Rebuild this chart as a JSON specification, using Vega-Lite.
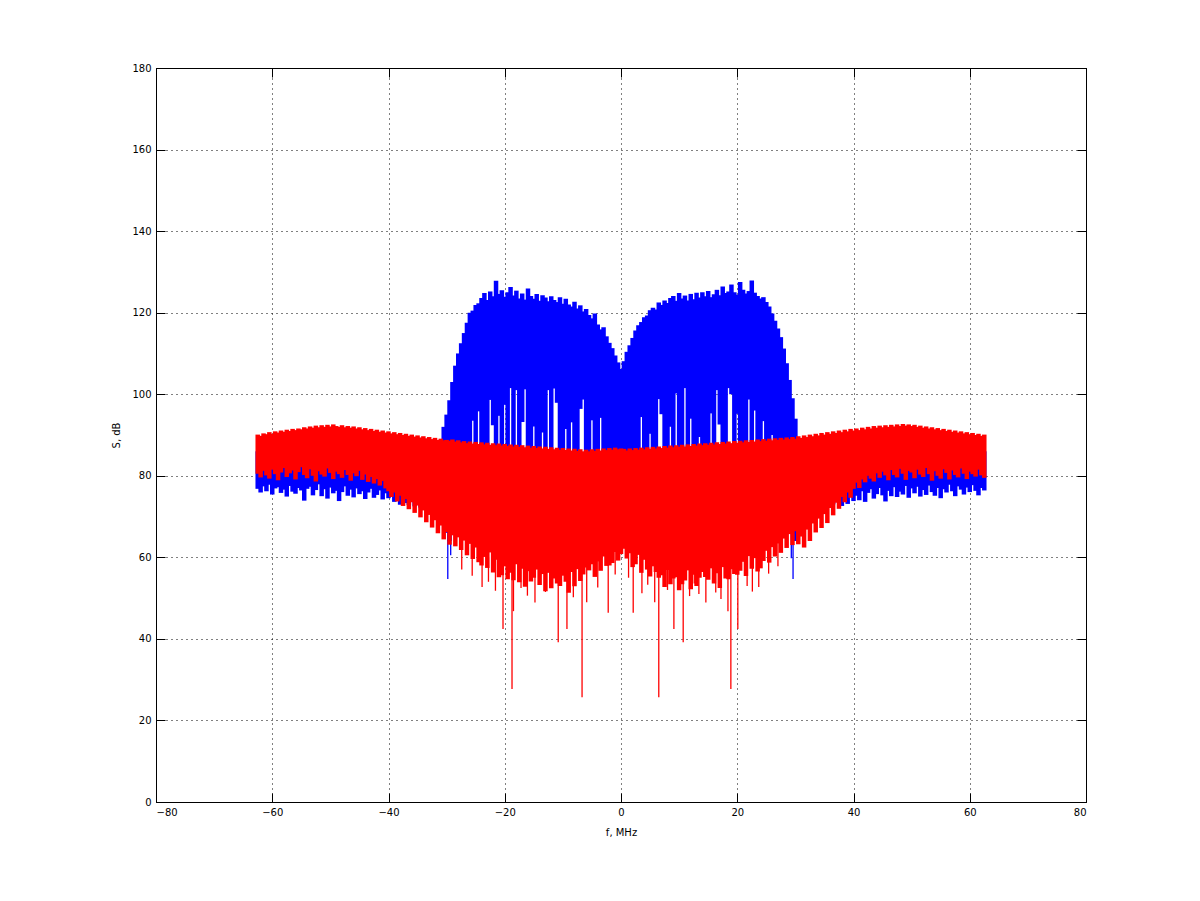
{
  "$schema": "https://vega.github.io/schema/vega-lite/v6.json",
  "width": 930,
  "height": 734,
  "autosize": "none",
  "padding": {"left": 156, "top": 68, "right": 114, "bottom": 99},
  "background": "white",
  "config": {
    "font": "DejaVu Sans",
    "view": {"stroke": "black", "strokeWidth": 1},
    "axis": {
      "labelFontSize": 10,
      "labelColor": "black",
      "titleFontSize": 10,
      "titleFontWeight": "normal",
      "titleColor": "black",
      "domainColor": "black",
      "tickColor": "black",
      "tickSize": -9,
      "gridColor": "black",
      "gridDash": [1, 4],
      "gridOpacity": 1
    }
  },
  "datasets": {
    "main": [
      {"f": -62.5, "r1": 90.1, "r0": 80.5, "b0": 76.8, "b1": 86},
      {"f": -62, "r1": 89.8, "r0": 79.6, "b0": 75.9, "b1": 86},
      {"f": -61.5, "r1": 90.4, "r0": 81.2, "b0": 77.4, "b1": 86},
      {"f": -61, "r1": 90.2, "r0": 80.1, "b0": 76.2, "b1": 86},
      {"f": -60.5, "r1": 90.7, "r0": 79.3, "b0": 77.8, "b1": 86},
      {"f": -60, "r1": 90.3, "r0": 81.5, "b0": 75.4, "b1": 86},
      {"f": -59.5, "r1": 90.9, "r0": 80.4, "b0": 76.9, "b1": 86},
      {"f": -59, "r1": 90.6, "r0": 78.9, "b0": 77.2, "b1": 86},
      {"f": -58.5, "r1": 91.1, "r0": 80.8, "b0": 75.8, "b1": 86},
      {"f": -58, "r1": 90.8, "r0": 81.9, "b0": 76.6, "b1": 86},
      {"f": -57.5, "r1": 91.3, "r0": 79.7, "b0": 74.9, "b1": 86},
      {"f": -57, "r1": 91.0, "r0": 80.6, "b0": 77.5, "b1": 86},
      {"f": -56.5, "r1": 91.5, "r0": 81.3, "b0": 76.1, "b1": 86},
      {"f": -56, "r1": 91.2, "r0": 79.1, "b0": 75.6, "b1": 86},
      {"f": -55.5, "r1": 91.6, "r0": 80.9, "b0": 77.0, "b1": 86},
      {"f": -55, "r1": 91.4, "r0": 82.1, "b0": 76.4, "b1": 86},
      {"f": -54.5, "r1": 91.9, "r0": 80.2, "b0": 73.9, "b1": 86},
      {"f": -54, "r1": 91.6, "r0": 79.4, "b0": 76.8, "b1": 86},
      {"f": -53.5, "r1": 92.1, "r0": 81.6, "b0": 77.3, "b1": 86},
      {"f": -53, "r1": 91.8, "r0": 80.0, "b0": 75.2, "b1": 86},
      {"f": -52.5, "r1": 92.3, "r0": 78.6, "b0": 76.5, "b1": 86},
      {"f": -52, "r1": 91.9, "r0": 81.1, "b0": 77.9, "b1": 86},
      {"f": -51.5, "r1": 92.4, "r0": 80.3, "b0": 75.0, "b1": 86},
      {"f": -51, "r1": 92.0, "r0": 79.8, "b0": 76.7, "b1": 86},
      {"f": -50.5, "r1": 92.5, "r0": 81.8, "b0": 74.4, "b1": 86},
      {"f": -50, "r1": 92.1, "r0": 80.7, "b0": 77.1, "b1": 86},
      {"f": -49.5, "r1": 92.6, "r0": 79.2, "b0": 75.7, "b1": 86},
      {"f": -49, "r1": 92.2, "r0": 81.0, "b0": 76.3, "b1": 86},
      {"f": -48.5, "r1": 92.0, "r0": 80.4, "b0": 73.8, "b1": 86},
      {"f": -48, "r1": 92.4, "r0": 79.5, "b0": 76.0, "b1": 86},
      {"f": -47.5, "r1": 91.9, "r0": 81.4, "b0": 77.4, "b1": 86},
      {"f": -47, "r1": 92.2, "r0": 80.2, "b0": 75.1, "b1": 86},
      {"f": -46.5, "r1": 91.8, "r0": 78.8, "b0": 76.6, "b1": 86},
      {"f": -46, "r1": 92.1, "r0": 80.6, "b0": 74.7, "b1": 86},
      {"f": -45.5, "r1": 91.6, "r0": 79.9, "b0": 76.9, "b1": 86},
      {"f": -45, "r1": 91.9, "r0": 81.2, "b0": 75.5, "b1": 86},
      {"f": -44.5, "r1": 91.4, "r0": 79.0, "b0": 76.2, "b1": 86},
      {"f": -44, "r1": 91.7, "r0": 80.3, "b0": 74.3, "b1": 86},
      {"f": -43.5, "r1": 91.2, "r0": 78.5, "b0": 75.9, "b1": 86},
      {"f": -43, "r1": 91.5, "r0": 79.7, "b0": 76.8, "b1": 86},
      {"f": -42.5, "r1": 91.0, "r0": 78.1, "b0": 74.6, "b1": 86},
      {"f": -42, "r1": 91.3, "r0": 79.2, "b0": 75.3, "b1": 86},
      {"f": -41.5, "r1": 90.8, "r0": 77.6, "b0": 76.4, "b1": 86},
      {"f": -41, "r1": 91.1, "r0": 78.7, "b0": 74.2, "b1": 86},
      {"f": -40.5, "r1": 90.6, "r0": 76.9, "b0": 75.7, "b1": 86},
      {"f": -40, "r1": 90.9, "r0": 76.2, "b0": 74.5, "b1": 86},
      {"f": -39.5, "r1": 90.4, "r0": 74.8, "b0": 75.2, "b1": 86},
      {"f": -39, "r1": 90.7, "r0": 75.9, "b0": 73.6, "b1": 86},
      {"f": -38.5, "r1": 90.2, "r0": 73.7, "b0": 74.1, "b1": 86},
      {"f": -38, "r1": 90.5, "r0": 75.1, "b0": 72.9, "b1": 86},
      {"f": -37.5, "r1": 90.0, "r0": 72.6, "b0": 74.4, "b1": 86},
      {"f": -37, "r1": 90.3, "r0": 74.3, "b0": 73.3, "b1": 86},
      {"f": -36.5, "r1": 89.8, "r0": 71.8, "b0": 72.8, "b1": 86},
      {"f": -36, "r1": 90.1, "r0": 73.5, "b0": 73.9, "b1": 86},
      {"f": -35.5, "r1": 89.6, "r0": 70.9, "b0": 72.5, "b1": 86},
      {"f": -35, "r1": 89.9, "r0": 72.7, "b0": 73.1, "b1": 86},
      {"f": -34.5, "r1": 89.4, "r0": 69.8, "b0": 72.2, "b1": 86},
      {"f": -34, "r1": 89.7, "r0": 71.5, "b0": 72.7, "b1": 86},
      {"f": -33.5, "r1": 89.2, "r0": 68.6, "b0": 71.9, "b1": 86},
      {"f": -33, "r1": 89.5, "r0": 70.4, "b0": 72.4, "b1": 86},
      {"f": -32.5, "r1": 89.0, "r0": 67.3, "b0": 71.6, "b1": 86},
      {"f": -32, "r1": 89.3, "r0": 69.1, "b0": 72.0, "b1": 86},
      {"f": -31.5, "r1": 88.8, "r0": 65.9, "b0": 71.3, "b1": 86},
      {"f": -31, "r1": 89.1, "r0": 67.8, "b0": 71.7, "b1": 86},
      {"f": -30.5, "r1": 88.7, "r0": 64.4, "b0": 71.0, "b1": 92},
      {"f": -30, "r1": 88.8, "r0": 66.2, "b0": 66, "b1": 95},
      {"f": -29.5, "r1": 88.6, "r0": 63.1, "b0": 64, "b1": 98.5},
      {"f": -29, "r1": 88.9, "r0": 65.4, "b0": 84, "b1": 103},
      {"f": -28.5, "r1": 88.4, "r0": 62.7, "b0": 84, "b1": 107},
      {"f": -28, "r1": 88.7, "r0": 64.9, "b0": 84, "b1": 110},
      {"f": -27.5, "r1": 88.2, "r0": 61.8, "b0": 84, "b1": 112.5},
      {"f": -27, "r1": 88.5, "r0": 64.1, "b0": 84, "b1": 115},
      {"f": -26.5, "r1": 88.0, "r0": 60.5, "b0": 84, "b1": 117.5},
      {"f": -26, "r1": 88.4, "r0": 63.3, "b0": 84, "b1": 120},
      {"f": -25.5, "r1": 87.9, "r0": 59.6, "b0": 93.5, "b1": 120.5},
      {"f": -25, "r1": 88.3, "r0": 62.4, "b0": 84, "b1": 121.9},
      {"f": -24.5, "r1": 87.8, "r0": 58.8, "b0": 95.8, "b1": 122.3},
      {"f": -24, "r1": 88.2, "r0": 58.0, "b0": 84, "b1": 123.6},
      {"f": -23.5, "r1": 87.7, "r0": 60.1, "b0": 84, "b1": 124.8},
      {"f": -23, "r1": 88.1, "r0": 57.4, "b0": 84, "b1": 123.1},
      {"f": -22.5, "r1": 87.6, "r0": 61.2, "b0": 98.6, "b1": 125.2},
      {"f": -22, "r1": 88.0, "r0": 56.3, "b0": 92.4, "b1": 124.0},
      {"f": -21.5, "r1": 87.5, "r0": 59.4, "b0": 84, "b1": 127.8},
      {"f": -21, "r1": 87.9, "r0": 55.1, "b0": 94.7, "b1": 124.6},
      {"f": -20.5, "r1": 87.4, "r0": 55.6, "b0": 84, "b1": 125.5},
      {"f": -20, "r1": 87.8, "r0": 57.8, "b0": 97.4, "b1": 123.9},
      {"f": -19.5, "r1": 87.3, "r0": 54.6, "b0": 84, "b1": 125.0},
      {"f": -19, "r1": 87.7, "r0": 56.2, "b0": 101.5, "b1": 126.3},
      {"f": -18.5, "r1": 87.2, "r0": 54.4, "b0": 84, "b1": 124.2},
      {"f": -18, "r1": 87.6, "r0": 58.3, "b0": 101.0, "b1": 125.4},
      {"f": -17.5, "r1": 87.1, "r0": 53.9, "b0": 84, "b1": 123.5},
      {"f": -17, "r1": 87.5, "r0": 57.2, "b0": 93.2, "b1": 124.7},
      {"f": -16.5, "r1": 87.0, "r0": 52.8, "b0": 101.2, "b1": 123.2},
      {"f": -16, "r1": 87.4, "r0": 56.6, "b0": 84, "b1": 125.9},
      {"f": -15.5, "r1": 86.9, "r0": 54.1, "b0": 84, "b1": 124.1},
      {"f": -15, "r1": 87.3, "r0": 55.0, "b0": 92.1, "b1": 123.4},
      {"f": -14.5, "r1": 86.8, "r0": 57.0, "b0": 84, "b1": 124.6},
      {"f": -14, "r1": 87.2, "r0": 53.2, "b0": 84, "b1": 122.9},
      {"f": -13.5, "r1": 86.7, "r0": 55.9, "b0": 90.6, "b1": 124.3},
      {"f": -13, "r1": 87.1, "r0": 51.7, "b0": 84, "b1": 123.7},
      {"f": -12.5, "r1": 86.6, "r0": 56.2, "b0": 101.0, "b1": 122.8},
      {"f": -12, "r1": 87.0, "r0": 52.4, "b0": 84, "b1": 124.0},
      {"f": -11.5, "r1": 86.5, "r0": 54.8, "b0": 101.4, "b1": 123.1},
      {"f": -11, "r1": 86.9, "r0": 53.6, "b0": 97.9, "b1": 122.6},
      {"f": -10.5, "r1": 86.4, "r0": 53.0, "b0": 84, "b1": 123.8},
      {"f": -10, "r1": 86.8, "r0": 55.5, "b0": 84, "b1": 122.2},
      {"f": -9.5, "r1": 86.3, "r0": 54.0, "b0": 91.5, "b1": 123.4},
      {"f": -9, "r1": 86.7, "r0": 51.3, "b0": 84, "b1": 122.0},
      {"f": -8.5, "r1": 86.2, "r0": 56.4, "b0": 93.1, "b1": 121.5},
      {"f": -8, "r1": 86.6, "r0": 52.9, "b0": 84, "b1": 122.7},
      {"f": -7.5, "r1": 86.1, "r0": 57.1, "b0": 84, "b1": 121.0},
      {"f": -7, "r1": 86.5, "r0": 54.2, "b0": 96.4, "b1": 121.8},
      {"f": -6.5, "r1": 86.0, "r0": 55.8, "b0": 98.7, "b1": 120.3},
      {"f": -6, "r1": 86.4, "r0": 57.5, "b0": 84, "b1": 120.9},
      {"f": -5.5, "r1": 86.0, "r0": 56.8, "b0": 84, "b1": 119.4},
      {"f": -5, "r1": 86.5, "r0": 58.3, "b0": 93.6, "b1": 118.6},
      {"f": -4.5, "r1": 86.1, "r0": 55.2, "b0": 84, "b1": 119.8},
      {"f": -4, "r1": 86.6, "r0": 59.0, "b0": 84, "b1": 117.1},
      {"f": -3.5, "r1": 86.2, "r0": 56.7, "b0": 94.2, "b1": 115.9},
      {"f": -3, "r1": 86.7, "r0": 60.2, "b0": 84, "b1": 116.4},
      {"f": -2.5, "r1": 86.3, "r0": 57.9, "b0": 84, "b1": 114.2},
      {"f": -2, "r1": 86.8, "r0": 58.0, "b0": 84, "b1": 112.6},
      {"f": -1.5, "r1": 86.4, "r0": 58.6, "b0": 84, "b1": 111.3},
      {"f": -1, "r1": 86.9, "r0": 61.3, "b0": 84, "b1": 109.5},
      {"f": -0.5, "r1": 86.5, "r0": 59.2, "b0": 84, "b1": 107.8},
      {"f": 0, "r1": 86.7, "r0": 60.8, "b0": 84, "b1": 106.2},
      {"f": 0.5, "r1": 86.6, "r0": 62.1, "b0": 84, "b1": 108.1},
      {"f": 1, "r1": 86.2, "r0": 59.7, "b0": 84, "b1": 110.4},
      {"f": 1.5, "r1": 86.7, "r0": 61.0, "b0": 84, "b1": 112.0},
      {"f": 2, "r1": 86.3, "r0": 57.6, "b0": 84, "b1": 113.8},
      {"f": 2.5, "r1": 86.8, "r0": 58.3, "b0": 84, "b1": 115.6},
      {"f": 3, "r1": 86.4, "r0": 60.6, "b0": 84, "b1": 116.9},
      {"f": 3.5, "r1": 86.9, "r0": 56.2, "b0": 94.4, "b1": 117.7},
      {"f": 4, "r1": 86.5, "r0": 59.4, "b0": 84, "b1": 118.9},
      {"f": 4.5, "r1": 87.0, "r0": 57.0, "b0": 84, "b1": 119.3},
      {"f": 5, "r1": 86.6, "r0": 55.3, "b0": 90.3, "b1": 120.6},
      {"f": 5.5, "r1": 87.1, "r0": 57.8, "b0": 84, "b1": 121.2},
      {"f": 6, "r1": 86.7, "r0": 56.4, "b0": 84, "b1": 120.8},
      {"f": 6.5, "r1": 87.2, "r0": 55.0, "b0": 98.8, "b1": 122.5},
      {"f": 7, "r1": 86.8, "r0": 55.6, "b0": 95.1, "b1": 121.9},
      {"f": 7.5, "r1": 87.3, "r0": 52.7, "b0": 84, "b1": 123.0},
      {"f": 8, "r1": 86.9, "r0": 56.9, "b0": 84, "b1": 122.4},
      {"f": 8.5, "r1": 87.4, "r0": 53.4, "b0": 92.0, "b1": 123.6},
      {"f": 9, "r1": 87.0, "r0": 54.8, "b0": 84, "b1": 124.1},
      {"f": 9.5, "r1": 87.5, "r0": 55.1, "b0": 100.2, "b1": 122.9},
      {"f": 10, "r1": 87.1, "r0": 51.9, "b0": 84, "b1": 124.8},
      {"f": 10.5, "r1": 87.6, "r0": 53.4, "b0": 84, "b1": 123.5},
      {"f": 11, "r1": 87.2, "r0": 54.3, "b0": 101.5, "b1": 124.2},
      {"f": 11.5, "r1": 87.7, "r0": 56.8, "b0": 84, "b1": 123.0},
      {"f": 12, "r1": 87.3, "r0": 52.2, "b0": 94.0, "b1": 124.6},
      {"f": 12.5, "r1": 87.8, "r0": 55.7, "b0": 84, "b1": 123.3},
      {"f": 13, "r1": 87.4, "r0": 53.0, "b0": 84, "b1": 124.9},
      {"f": 13.5, "r1": 87.9, "r0": 55.0, "b0": 89.5, "b1": 123.7},
      {"f": 14, "r1": 87.5, "r0": 56.4, "b0": 84, "b1": 125.0},
      {"f": 14.5, "r1": 88.0, "r0": 55.2, "b0": 84, "b1": 124.0},
      {"f": 15, "r1": 87.6, "r0": 54.5, "b0": 84, "b1": 125.3},
      {"f": 15.5, "r1": 88.1, "r0": 57.3, "b0": 95.3, "b1": 123.8},
      {"f": 16, "r1": 87.7, "r0": 53.6, "b0": 84, "b1": 124.5},
      {"f": 16.5, "r1": 88.2, "r0": 56.1, "b0": 101.0, "b1": 125.6},
      {"f": 17, "r1": 87.8, "r0": 52.5, "b0": 92.6, "b1": 124.3},
      {"f": 17.5, "r1": 88.3, "r0": 57.6, "b0": 84, "b1": 126.4},
      {"f": 18, "r1": 87.9, "r0": 54.8, "b0": 84, "b1": 124.8},
      {"f": 18.5, "r1": 88.4, "r0": 54.6, "b0": 101.5, "b1": 125.2},
      {"f": 19, "r1": 88.0, "r0": 57.1, "b0": 100.0, "b1": 126.9},
      {"f": 19.5, "r1": 88.5, "r0": 55.9, "b0": 84, "b1": 125.0},
      {"f": 20, "r1": 88.1, "r0": 55.7, "b0": 95.2, "b1": 124.4},
      {"f": 20.5, "r1": 88.6, "r0": 56.7, "b0": 84, "b1": 127.5},
      {"f": 21, "r1": 88.2, "r0": 58.9, "b0": 84, "b1": 125.6},
      {"f": 21.5, "r1": 88.7, "r0": 55.4, "b0": 84, "b1": 124.7},
      {"f": 22, "r1": 88.3, "r0": 60.3, "b0": 98.7, "b1": 125.3},
      {"f": 22.5, "r1": 88.8, "r0": 57.2, "b0": 84, "b1": 127.9},
      {"f": 23, "r1": 88.4, "r0": 59.8, "b0": 96.0, "b1": 124.9},
      {"f": 23.5, "r1": 88.9, "r0": 56.5, "b0": 84, "b1": 124.1},
      {"f": 24, "r1": 88.5, "r0": 57.3, "b0": 84, "b1": 123.5},
      {"f": 24.5, "r1": 89.0, "r0": 59.1, "b0": 93.4, "b1": 123.8},
      {"f": 25, "r1": 88.6, "r0": 61.6, "b0": 84, "b1": 122.6},
      {"f": 25.5, "r1": 89.1, "r0": 58.7, "b0": 84, "b1": 121.5},
      {"f": 26, "r1": 88.7, "r0": 62.5, "b0": 90.0, "b1": 119.8},
      {"f": 26.5, "r1": 89.2, "r0": 60.2, "b0": 84, "b1": 118.0},
      {"f": 27, "r1": 88.8, "r0": 63.4, "b0": 84, "b1": 116.1},
      {"f": 27.5, "r1": 89.3, "r0": 61.1, "b0": 84, "b1": 114.0},
      {"f": 28, "r1": 88.9, "r0": 64.6, "b0": 84, "b1": 111.2},
      {"f": 28.5, "r1": 89.4, "r0": 62.3, "b0": 84, "b1": 107.6},
      {"f": 29, "r1": 89.0, "r0": 65.7, "b0": 84, "b1": 103.5},
      {"f": 29.5, "r1": 89.5, "r0": 63.0, "b0": 66, "b1": 99.0},
      {"f": 30, "r1": 89.1, "r0": 66.4, "b0": 64, "b1": 94.0},
      {"f": 30.5, "r1": 89.7, "r0": 63.2, "b0": 71.2, "b1": 86},
      {"f": 31, "r1": 89.3, "r0": 65.1, "b0": 71.8, "b1": 86},
      {"f": 31.5, "r1": 89.9, "r0": 62.4, "b0": 71.5, "b1": 86},
      {"f": 32, "r1": 89.5, "r0": 66.8, "b0": 72.1, "b1": 86},
      {"f": 32.5, "r1": 90.1, "r0": 64.0, "b0": 71.7, "b1": 86},
      {"f": 33, "r1": 89.7, "r0": 68.3, "b0": 72.5, "b1": 86},
      {"f": 33.5, "r1": 90.3, "r0": 66.1, "b0": 72.0, "b1": 86},
      {"f": 34, "r1": 89.9, "r0": 69.5, "b0": 72.8, "b1": 86},
      {"f": 34.5, "r1": 90.5, "r0": 67.2, "b0": 72.3, "b1": 86},
      {"f": 35, "r1": 90.1, "r0": 70.6, "b0": 73.2, "b1": 86},
      {"f": 35.5, "r1": 90.7, "r0": 68.4, "b0": 72.6, "b1": 86},
      {"f": 36, "r1": 90.3, "r0": 72.1, "b0": 73.7, "b1": 86},
      {"f": 36.5, "r1": 90.9, "r0": 70.3, "b0": 73.0, "b1": 86},
      {"f": 37, "r1": 90.5, "r0": 73.4, "b0": 74.1, "b1": 86},
      {"f": 37.5, "r1": 91.1, "r0": 71.9, "b0": 73.4, "b1": 86},
      {"f": 38, "r1": 90.7, "r0": 74.8, "b0": 72.6, "b1": 86},
      {"f": 38.5, "r1": 91.3, "r0": 73.5, "b0": 74.5, "b1": 86},
      {"f": 39, "r1": 90.9, "r0": 75.9, "b0": 73.1, "b1": 86},
      {"f": 39.5, "r1": 91.5, "r0": 74.6, "b0": 75.0, "b1": 86},
      {"f": 40, "r1": 91.1, "r0": 76.8, "b0": 73.8, "b1": 86},
      {"f": 40.5, "r1": 91.6, "r0": 78.3, "b0": 75.1, "b1": 86},
      {"f": 41, "r1": 91.2, "r0": 77.0, "b0": 74.0, "b1": 86},
      {"f": 41.5, "r1": 91.8, "r0": 79.1, "b0": 76.2, "b1": 86},
      {"f": 42, "r1": 91.4, "r0": 78.4, "b0": 73.6, "b1": 86},
      {"f": 42.5, "r1": 92.0, "r0": 80.0, "b0": 75.8, "b1": 86},
      {"f": 43, "r1": 91.6, "r0": 79.3, "b0": 76.7, "b1": 86},
      {"f": 43.5, "r1": 92.2, "r0": 78.6, "b0": 74.4, "b1": 86},
      {"f": 44, "r1": 91.8, "r0": 80.6, "b0": 75.5, "b1": 86},
      {"f": 44.5, "r1": 92.3, "r0": 79.5, "b0": 77.0, "b1": 86},
      {"f": 45, "r1": 91.9, "r0": 81.0, "b0": 75.2, "b1": 86},
      {"f": 45.5, "r1": 92.4, "r0": 80.1, "b0": 73.7, "b1": 86},
      {"f": 46, "r1": 92.0, "r0": 78.9, "b0": 76.3, "b1": 86},
      {"f": 46.5, "r1": 92.5, "r0": 81.4, "b0": 75.0, "b1": 86},
      {"f": 47, "r1": 92.1, "r0": 80.2, "b0": 77.2, "b1": 86},
      {"f": 47.5, "r1": 92.6, "r0": 79.6, "b0": 74.8, "b1": 86},
      {"f": 48, "r1": 92.2, "r0": 81.7, "b0": 76.1, "b1": 86},
      {"f": 48.5, "r1": 92.7, "r0": 80.5, "b0": 75.4, "b1": 86},
      {"f": 49, "r1": 92.3, "r0": 79.0, "b0": 77.5, "b1": 86},
      {"f": 49.5, "r1": 92.6, "r0": 81.2, "b0": 74.6, "b1": 86},
      {"f": 50, "r1": 92.2, "r0": 80.8, "b0": 76.9, "b1": 86},
      {"f": 50.5, "r1": 92.5, "r0": 79.4, "b0": 75.7, "b1": 86},
      {"f": 51, "r1": 92.0, "r0": 81.5, "b0": 77.3, "b1": 86},
      {"f": 51.5, "r1": 92.3, "r0": 80.3, "b0": 74.9, "b1": 86},
      {"f": 52, "r1": 91.8, "r0": 79.7, "b0": 76.5, "b1": 86},
      {"f": 52.5, "r1": 92.1, "r0": 81.9, "b0": 75.3, "b1": 86},
      {"f": 53, "r1": 91.6, "r0": 80.4, "b0": 77.6, "b1": 86},
      {"f": 53.5, "r1": 91.9, "r0": 78.8, "b0": 76.0, "b1": 86},
      {"f": 54, "r1": 91.4, "r0": 81.1, "b0": 75.1, "b1": 86},
      {"f": 54.5, "r1": 91.7, "r0": 80.0, "b0": 77.0, "b1": 86},
      {"f": 55, "r1": 91.2, "r0": 79.3, "b0": 74.5, "b1": 86},
      {"f": 55.5, "r1": 91.5, "r0": 81.6, "b0": 76.7, "b1": 86},
      {"f": 56, "r1": 91.0, "r0": 80.7, "b0": 75.9, "b1": 86},
      {"f": 56.5, "r1": 91.3, "r0": 79.1, "b0": 77.8, "b1": 86},
      {"f": 57, "r1": 90.8, "r0": 81.3, "b0": 76.2, "b1": 86},
      {"f": 57.5, "r1": 91.1, "r0": 80.2, "b0": 75.0, "b1": 86},
      {"f": 58, "r1": 90.6, "r0": 79.6, "b0": 77.4, "b1": 86},
      {"f": 58.5, "r1": 90.9, "r0": 81.8, "b0": 76.6, "b1": 86},
      {"f": 59, "r1": 90.4, "r0": 80.5, "b0": 75.4, "b1": 86},
      {"f": 59.5, "r1": 90.7, "r0": 79.2, "b0": 77.1, "b1": 86},
      {"f": 60, "r1": 90.2, "r0": 81.0, "b0": 76.0, "b1": 86},
      {"f": 60.5, "r1": 90.5, "r0": 80.4, "b0": 77.7, "b1": 86},
      {"f": 61, "r1": 90.0, "r0": 79.8, "b0": 76.3, "b1": 86},
      {"f": 61.5, "r1": 90.3, "r0": 81.5, "b0": 75.2, "b1": 86},
      {"f": 62, "r1": 89.8, "r0": 80.1, "b0": 77.0, "b1": 86},
      {"f": 62.5, "r1": 90.1, "r0": 79.5, "b0": 76.4, "b1": 86}
    ],
    "spikes": [
      {"series": "blue", "f": -29.8, "lo": 54.7, "hi": 70},
      {"series": "blue", "f": -29.3, "lo": 60.5, "hi": 70},
      {"series": "blue", "f": 29.3, "lo": 59.8, "hi": 70},
      {"series": "blue", "f": 29.6, "lo": 54.7, "hi": 70},
      {"series": "red", "f": -27.4, "lo": 57.0, "hi": 64},
      {"series": "red", "f": -25.6, "lo": 55.5, "hi": 62},
      {"series": "red", "f": -23.9, "lo": 52.7, "hi": 60},
      {"series": "red", "f": -22.8, "lo": 54.0, "hi": 60},
      {"series": "red", "f": -21.6, "lo": 51.8, "hi": 60},
      {"series": "red", "f": -20.3, "lo": 42.4, "hi": 58},
      {"series": "red", "f": -18.75, "lo": 27.7, "hi": 58},
      {"series": "red", "f": -18.5, "lo": 46.8, "hi": 58},
      {"series": "red", "f": -17.2, "lo": 52.5, "hi": 58},
      {"series": "red", "f": -16.1, "lo": 50.6, "hi": 58},
      {"series": "red", "f": -14.8, "lo": 48.9, "hi": 57},
      {"series": "red", "f": -13.0, "lo": 51.5, "hi": 57},
      {"series": "red", "f": -12.1, "lo": 53.8, "hi": 57},
      {"series": "red", "f": -10.8, "lo": 39.2, "hi": 57},
      {"series": "red", "f": -9.3, "lo": 42.4, "hi": 57},
      {"series": "red", "f": -8.2, "lo": 50.2, "hi": 57},
      {"series": "red", "f": -6.7, "lo": 25.7, "hi": 58},
      {"series": "red", "f": -5.9, "lo": 49.0, "hi": 58},
      {"series": "red", "f": -4.0, "lo": 52.6, "hi": 60},
      {"series": "red", "f": -2.2, "lo": 46.4, "hi": 60},
      {"series": "red", "f": -1.0, "lo": 55.8, "hi": 62},
      {"series": "red", "f": 1.3, "lo": 55.0, "hi": 62},
      {"series": "red", "f": 2.1, "lo": 46.4, "hi": 60},
      {"series": "red", "f": 3.6, "lo": 51.2, "hi": 60},
      {"series": "red", "f": 4.6, "lo": 53.3, "hi": 58},
      {"series": "red", "f": 5.8, "lo": 49.0, "hi": 58},
      {"series": "red", "f": 6.5, "lo": 25.7, "hi": 58},
      {"series": "red", "f": 8.0, "lo": 52.0, "hi": 58},
      {"series": "red", "f": 9.1, "lo": 42.4, "hi": 57},
      {"series": "red", "f": 10.7, "lo": 39.2, "hi": 57},
      {"series": "red", "f": 11.8, "lo": 50.5, "hi": 57},
      {"series": "red", "f": 12.6, "lo": 53.6, "hi": 57},
      {"series": "red", "f": 13.4, "lo": 51.0, "hi": 57},
      {"series": "red", "f": 14.6, "lo": 48.9, "hi": 57},
      {"series": "red", "f": 16.3, "lo": 51.4, "hi": 58},
      {"series": "red", "f": 17.2, "lo": 49.8, "hi": 58},
      {"series": "red", "f": 18.4, "lo": 46.8, "hi": 58},
      {"series": "red", "f": 18.9, "lo": 27.7, "hi": 58},
      {"series": "red", "f": 20.1, "lo": 42.4, "hi": 58},
      {"series": "red", "f": 21.7, "lo": 53.0, "hi": 60},
      {"series": "red", "f": 22.6, "lo": 51.6, "hi": 60},
      {"series": "red", "f": 23.7, "lo": 52.7, "hi": 60},
      {"series": "red", "f": 25.4, "lo": 56.0, "hi": 62},
      {"series": "red", "f": 27.0, "lo": 57.8, "hi": 64}
    ]
  },
  "layer": [
    {
      "data": {"name": "main"},
      "mark": {"type": "rule", "color": "#0000ff", "strokeWidth": 4.5, "strokeCap": "butt", "opacity": 1},
      "encoding": {
        "x": {
          "field": "f",
          "type": "quantitative",
          "scale": {"domain": [-80, 80], "nice": false, "zero": false},
          "axis": {
            "values": [-80, -60, -40, -20, 0, 20, 40, 60, 80],
            "title": "f, MHz",
            "labelPadding": 14,
            "titlePadding": 10,
            "grid": true
          }
        },
        "y": {
          "field": "b0",
          "type": "quantitative",
          "scale": {"domain": [0, 180], "nice": false, "zero": false},
          "axis": {
            "values": [0, 20, 40, 60, 80, 100, 120, 140, 160, 180],
            "title": "S, dB",
            "labelPadding": 14,
            "titlePadding": 10,
            "grid": true
          }
        },
        "y2": {"field": "b1"}
      }
    },
    {
      "data": {"name": "spikes"},
      "transform": [{"filter": "datum.series === 'blue'"}],
      "mark": {"type": "rule", "color": "#0000ff", "strokeWidth": 1.3, "strokeCap": "butt"},
      "encoding": {
        "x": {"field": "f", "type": "quantitative", "axis": null},
        "y": {"field": "lo", "type": "quantitative", "axis": null},
        "y2": {"field": "hi"}
      }
    },
    {
      "data": {"name": "main"},
      "mark": {"type": "rule", "color": "#ff0000", "strokeWidth": 4.5, "strokeCap": "butt", "opacity": 1},
      "encoding": {
        "x": {
          "field": "f",
          "type": "quantitative",
          "scale": {"domain": [-80, 80], "nice": false, "zero": false},
          "axis": {
            "orient": "top",
            "values": [-80, -60, -40, -20, 0, 20, 40, 60, 80],
            "labels": false,
            "title": null,
            "grid": false
          }
        },
        "y": {
          "field": "r0",
          "type": "quantitative",
          "scale": {"domain": [0, 180], "nice": false, "zero": false},
          "axis": {
            "orient": "right",
            "values": [0, 20, 40, 60, 80, 100, 120, 140, 160, 180],
            "labels": false,
            "title": null,
            "grid": false
          }
        },
        "y2": {"field": "r1"}
      }
    },
    {
      "data": {"name": "spikes"},
      "transform": [{"filter": "datum.series === 'red'"}],
      "mark": {"type": "rule", "color": "#ff0000", "strokeWidth": 1.3, "strokeCap": "butt"},
      "encoding": {
        "x": {"field": "f", "type": "quantitative", "axis": null},
        "y": {"field": "lo", "type": "quantitative", "axis": null},
        "y2": {"field": "hi"}
      }
    }
  ],
  "resolve": {"axis": {"x": "independent", "y": "independent"}}
}
